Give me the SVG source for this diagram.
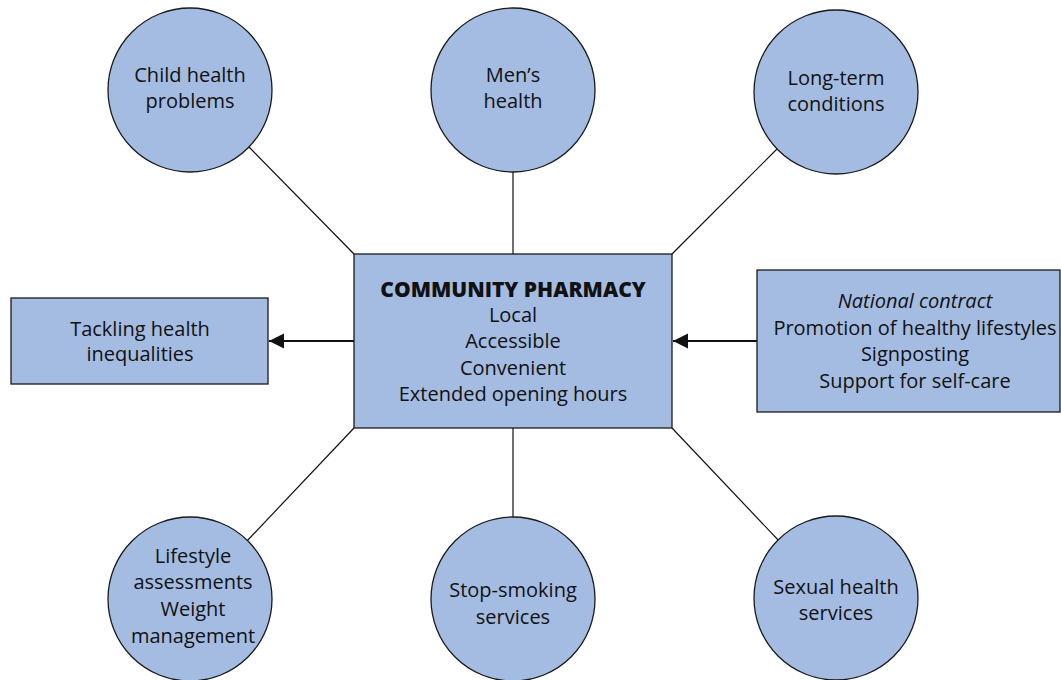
<svg xmlns="http://www.w3.org/2000/svg" width="1061" height="680" viewBox="0 0 1061 680">
<style>
.n{fill:#a4bce2;stroke:#1a1a1a;stroke-width:1.3}
.t{font-family:"Open Sans","Noto Sans",sans-serif;font-size:20px;fill:#111;text-anchor:middle}
.b{font-weight:800;font-size:21px}
.i{font-style:italic}
.c{stroke:#111;stroke-width:1.2;fill:none}
.a{stroke:#111;stroke-width:2.2;fill:none;marker-end:url(#ah)}
</style>
<defs>
<marker id="ah" viewBox="0 0 10 10" refX="10" refY="5" markerWidth="7" markerHeight="7" markerUnits="strokeWidth" orient="auto">
<path d="M0,0 L10,5 L0,10 z" fill="#111"/>
</marker>
</defs>
<rect width="1061" height="680" fill="#fff"/>
<g id="connectors">
<line class="c" x1="249" y1="147" x2="354" y2="254"/>
<line class="c" x1="513" y1="172" x2="513" y2="254"/>
<line class="c" x1="778" y1="148" x2="672" y2="254"/>
<line class="c" x1="354" y1="428" x2="247" y2="541"/>
<line class="c" x1="513" y1="428" x2="513" y2="518"/>
<line class="c" x1="672" y1="428" x2="780" y2="542"/>
<line class="a" x1="354" y1="341" x2="269" y2="341"/>
<line class="a" x1="757" y1="341" x2="673" y2="341"/>
</g>
<g id="child">
<circle class="n" cx="190" cy="90" r="82"/>
<text class="t" x="190" y="82">Child health</text>
<text class="t" x="190" y="108">problems</text>
</g>
<g id="mens">
<circle class="n" cx="513" cy="90" r="82"/>
<text class="t" x="513" y="82">Men’s</text>
<text class="t" x="513" y="108">health</text>
</g>
<g id="longterm">
<circle class="n" cx="836" cy="92" r="82"/>
<text class="t" x="836" y="85">Long-term</text>
<text class="t" x="836" y="111">conditions</text>
</g>
<g id="center">
<rect class="n" x="354" y="254" width="318" height="174"/>
<text class="t b" x="513" y="297">COMMUNITY PHARMACY</text>
<text class="t" x="513" y="322">Local</text>
<text class="t" x="513" y="348">Accessible</text>
<text class="t" x="513" y="375">Convenient</text>
<text class="t" x="513" y="401">Extended opening hours</text>
</g>
<g id="tackling">
<rect class="n" x="11" y="298" width="257" height="86"/>
<text class="t" x="140" y="336">Tackling health</text>
<text class="t" x="140" y="361">inequalities</text>
</g>
<g id="national">
<rect class="n" x="757" y="270" width="303" height="142"/>
<text class="t i" x="915" y="308">National contract</text>
<text class="t" x="915" y="335">Promotion of healthy lifestyles</text>
<text class="t" x="915" y="361">Signposting</text>
<text class="t" x="915" y="388">Support for self-care</text>
</g>
<g id="lifestyle">
<circle class="n" cx="190" cy="599" r="82"/>
<text class="t" x="193" y="563">Lifestyle</text>
<text class="t" x="193" y="589">assessments</text>
<text class="t" x="193" y="616">Weight</text>
<text class="t" x="193" y="643">management</text>
</g>
<g id="smoking">
<circle class="n" cx="513" cy="599" r="82"/>
<text class="t" x="513" y="597">Stop-smoking</text>
<text class="t" x="513" y="624">services</text>
</g>
<g id="sexual">
<circle class="n" cx="836" cy="598" r="82"/>
<text class="t" x="836" y="594">Sexual health</text>
<text class="t" x="836" y="620">services</text>
</g>
</svg>
